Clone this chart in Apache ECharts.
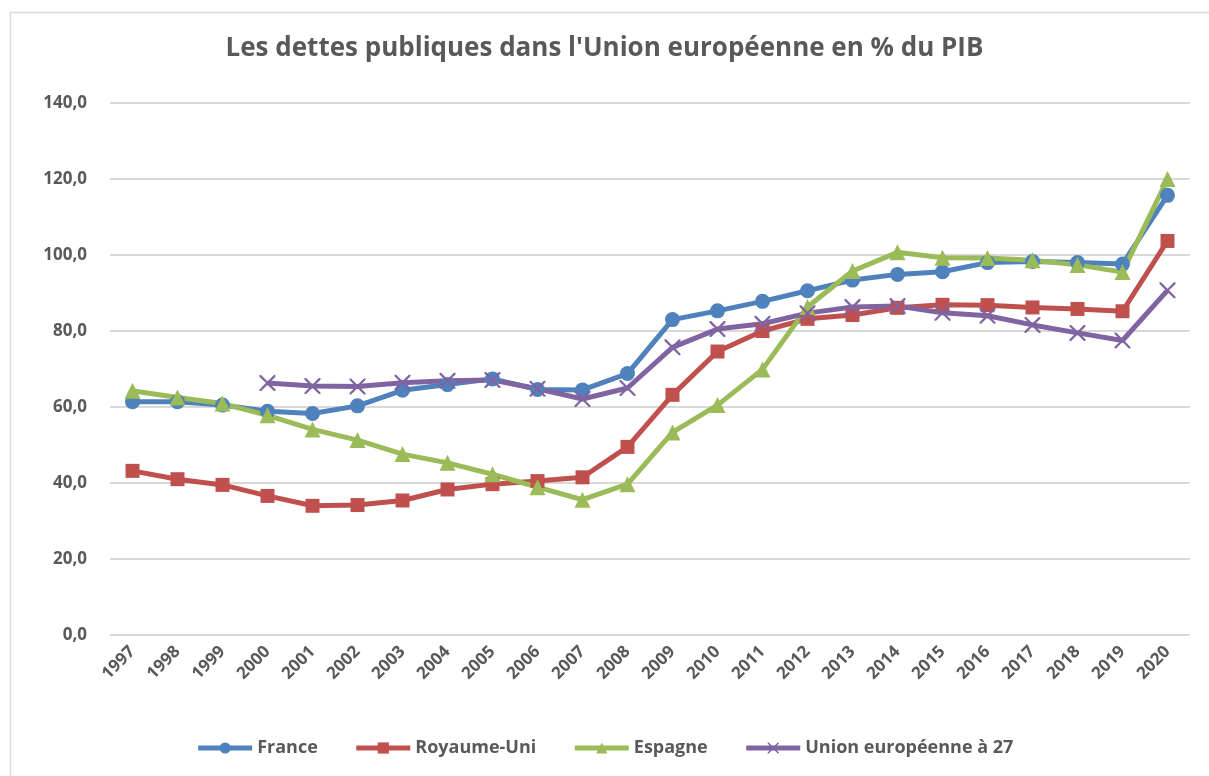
<!DOCTYPE html>
<html>
<head>
<meta charset="utf-8">
<script src="https://cdn.jsdelivr.net/npm/echarts@6/dist/echarts.min.js"></script>
<style>
  body { margin: 0; background: #fff; }
  #chart { width: 1209px; height: 776px; }
</style>
</head>
<body>
<div id="chart"></div>
<script>
const years = ['1997', '1998', '1999', '2000', '2001', '2002', '2003', '2004', '2005', '2006', '2007', '2008',
  '2009', '2010', '2011', '2012', '2013', '2014', '2015', '2016', '2017', '2018', '2019', '2020']

const france = [61.4, 61.4, 60.5, 58.9, 58.3, 60.3, 64.4, 65.9, 67.4, 64.6, 64.5, 68.8,
  83.0, 85.3, 87.8, 90.6, 93.4, 94.9, 95.6, 98.0, 98.3, 98.0, 97.6, 115.7]

const royaumeUni = [43.2, 41.0, 39.5, 36.6, 34.0, 34.2, 35.4, 38.3, 39.7, 40.5, 41.5, 49.5,
  63.2, 74.6, 80.0, 83.2, 84.2, 86.1, 86.9, 86.8, 86.2, 85.8, 85.2, 103.7]

const espagne = [64.3, 62.5, 60.9, 57.8, 54.1, 51.3, 47.6, 45.3, 42.3, 38.9, 35.6, 39.7,
  53.3, 60.5, 69.9, 86.3, 95.8, 100.7, 99.3, 99.2, 98.6, 97.4, 95.5, 120.0]

const ue27 = [null, null, null, 66.3, 65.5, 65.4, 66.4, 66.9, 67.1, 64.8, 62.1, 65.0,
  75.7, 80.5, 81.9, 84.7, 86.3, 86.6, 84.8, 84.0, 81.6, 79.5, 77.5, 90.7]

const font = '"Open Sans", Lato, sans-serif'
const grey = '#595959'
const crossPath = 'path://M0,0 L2,0 L10,8 L18,0 L20,0 L20,2 L12,10 L20,18 L20,20 L18,20 L10,12 L2,20 L0,20 L0,18 L8,10 L0,2 Z'

const makeSeries = (name, data, color, symbol, size) => ({
  name: name,
  type: 'line',
  data: data,
  symbol: symbol,
  symbolSize: size,
  lineStyle: { width: 5, color: color },
  itemStyle: { color: color },
  emphasis: { disabled: true }
})

const chart = echarts.init(document.getElementById('chart'))

chart.setOption({
  backgroundColor: '#fff',
  animation: false,
  graphic: [{
    type: 'rect',
    shape: { x: 10.5, y: 12.5, width: 1300, height: 900 },
    style: { fill: 'none', stroke: '#d9d9d9', lineWidth: 1.5 }
  }],
  title: {
    text: "Les dettes publiques dans l'Union européenne en % du PIB",
    left: 'center',
    top: 31,
    textStyle: { fontFamily: font, fontWeight: 'bold', fontSize: 26, color: grey }
  },
  legend: {
    bottom: 14,
    left: 'center',
    itemWidth: 54,
    itemHeight: 14,
    itemGap: 36,
    lineStyle: { width: 5 },
    textStyle: { fontFamily: font, fontWeight: 'bold', fontSize: 18, color: grey }
  },
  grid: { left: 110, right: 19, top: 103, bottom: 141 },
  xAxis: {
    type: 'category',
    data: years,
    boundaryGap: true,
    axisLine: { show: false },
    axisTick: { show: false },
    axisLabel: {
      rotate: 45,
      margin: 14,
      interval: 0,
      fontFamily: font,
      fontWeight: 'bold',
      fontSize: 17,
      color: grey
    }
  },
  yAxis: {
    type: 'value',
    min: 0,
    max: 140,
    interval: 20,
    axisLabel: {
      margin: 23,
      fontFamily: font,
      fontWeight: 'bold',
      fontSize: 17,
      color: grey,
      formatter: v => v.toFixed(1).replace('.', ',')
    },
    splitLine: { lineStyle: { color: '#d9d9d9', width: 2 } }
  },
  series: [
    makeSeries('France', france, '#4f81bd', 'circle', 15),
    makeSeries('Royaume-Uni', royaumeUni, '#c0504d', 'rect', 14),
    makeSeries('Espagne', espagne, '#9bbb59', 'triangle', 16),
    makeSeries('Union européenne à 27', ue27, '#8064a2', crossPath, 16)
  ]
})
</script>
</body>
</html>
